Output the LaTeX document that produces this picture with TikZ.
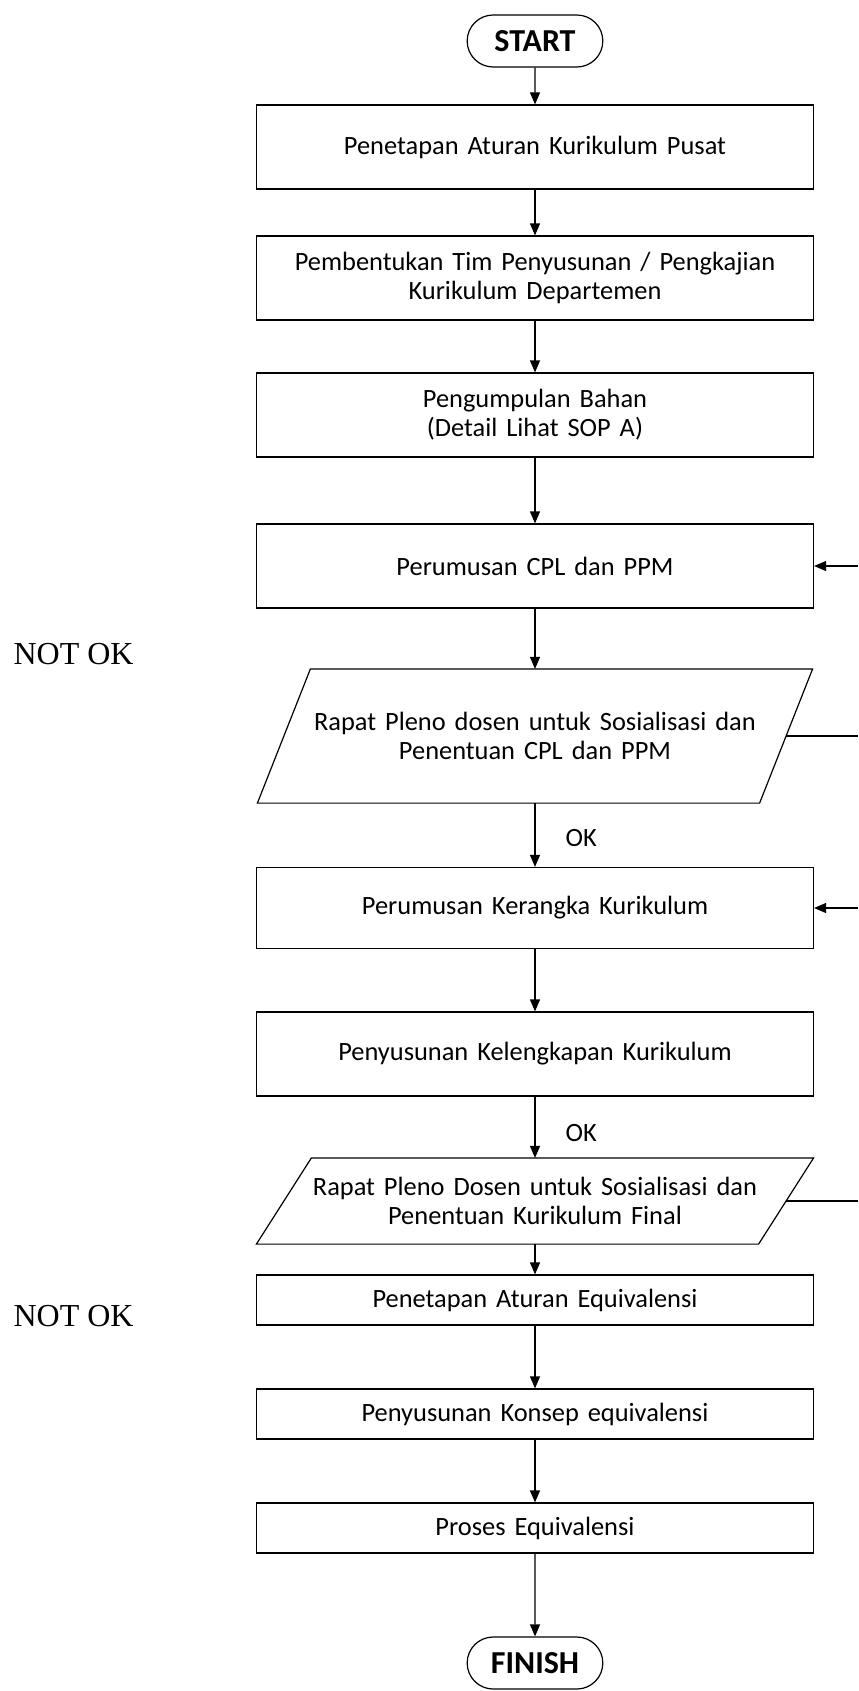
\documentclass[tikz,border=0pt]{standalone}
\usepackage{fontspec}
\setmainfont{Carlito}[WordSpace=1.5]
\newfontfamily\notefont{Liberation Serif}
\usetikzlibrary{shapes.misc,arrows.meta}
\begin{document}
\begin{tikzpicture}[x=0.5pt, y=-0.5pt, line width=0.6pt,
        font=\fontsize{13.2}{14.5}\selectfont,
        box/.style={rectangle, draw, minimum width=278.5pt, minimum height=42pt, align=center, inner sep=2pt},
        smallbox/.style={box, minimum height=25pt},
        terminal/.style={rounded rectangle, draw, minimum width=74.5pt, minimum height=26pt, font=\fontsize{16}{18}\selectfont\bfseries},
        para/.style={rectangle, minimum width=250.5pt, align=center, inner sep=2pt},
        note/.style={anchor=west, inner sep=0pt, font=\notefont\fontsize{16}{18}\selectfont},
        arrow/.style={-{Triangle[width=5pt,length=6pt]}}]
        \useasboundingbox (0,0) rectangle (858,1691);
        \coordinate (rightedge) at (858,0);

        % Start
        \node[terminal] (start) at (535,41) {START};

        % Aturan Pusat
        \node[box, below of=start, node distance=53pt] (pusat) {Penetapan Aturan Kurikulum Pusat};

        % Tim
        \node[box, below of=pusat, node distance=65.5pt] (tim) {Pembentukan Tim Penyusunan / Pengkajian\\Kurikulum Departemen};

        % Bahan
        \node[box, below of=tim, node distance=68.5pt] (bahan) {Pengumpulan Bahan\\(Detail Lihat SOP A)};

        % CPL
        \node[box, below of=bahan, node distance=75.5pt] (cpl) {Perumusan CPL dan PPM};

        % Rapat Pleno 1
        \node[para, minimum height=66.5pt, below of=cpl, node distance=85pt] (pleno1) {Rapat Pleno dosen untuk Sosialisasi dan\\Penentuan CPL dan PPM};
        \draw ([xshift=-13.25pt]pleno1.south west) -- ([xshift=13.25pt]pleno1.north west)
            -- ([xshift=13.25pt]pleno1.north east) -- ([xshift=-13.25pt]pleno1.south east) -- cycle;

        % Kerangka
        \node[box, below of=pleno1, node distance=86pt, minimum height=40.5pt] (kerangka) {Perumusan Kerangka Kurikulum};

        % Kelengkapan
        \node[box, below of=kerangka, node distance=73pt] (kelengkapan) {Penyusunan Kelengkapan Kurikulum};

        % Rapat Pleno 2
        \node[para, minimum height=42.5pt, below of=kelengkapan, node distance=73.5pt] (pleno2) {Rapat Pleno Dosen untuk Sosialisasi dan\\Penentuan Kurikulum Final};
        \draw ([xshift=-13.75pt]pleno2.south west) -- ([xshift=13.75pt]pleno2.north west)
            -- ([xshift=13.75pt]pleno2.north east) -- ([xshift=-13.75pt]pleno2.south east) -- cycle;

        % Equivalensi
        \node[smallbox, below of=pleno2, node distance=49.5pt] (aturaneq) {Penetapan Aturan Equivalensi};
        \node[smallbox, below of=aturaneq, node distance=57pt] (konsep) {Penyusunan Konsep equivalensi};
        \node[smallbox, below of=konsep, node distance=57pt] (proses) {Proses Equivalensi};

        % Finish
        \node[terminal, below of=proses, node distance=67.5pt] (finish) {FINISH};

        % Notes
        \node[note] (notok1) at (13,654) {NOT OK};
        \node[note] (notok2) at (13,1316) {NOT OK};

        % Connections
        \draw[arrow] (start) -- (pusat);
        \draw[arrow] (pusat) -- (tim);
        \draw[arrow] (tim) -- (bahan);
        \draw[arrow] (bahan) -- (cpl);
        \draw[arrow] (cpl) -- (pleno1);
        \draw[arrow] (pleno1) -- node[pos=0.55, right=15pt, inner sep=0pt] (ok1) {OK} (kerangka);
        \draw[arrow] (kerangka) -- (kelengkapan);
        \draw[arrow] (kelengkapan) -- node[pos=0.6, right=15pt, inner sep=0pt] (ok2) {OK} (pleno2);
        \draw[arrow] (pleno2) -- (aturaneq);
        \draw[arrow] (aturaneq) -- (konsep);
        \draw[arrow] (konsep) -- (proses);
        \draw[arrow] (proses) -- (finish);

        % Feedback
        \draw (pleno1.east) -- (pleno1.east -| rightedge);
        \draw[arrow] (cpl.east -| rightedge) -- (cpl.east);
        \draw (pleno2.east) -- (pleno2.east -| rightedge);
        \draw[arrow] (kerangka.east -| rightedge) -- (kerangka.east);
    \end{tikzpicture}
\end{document}
